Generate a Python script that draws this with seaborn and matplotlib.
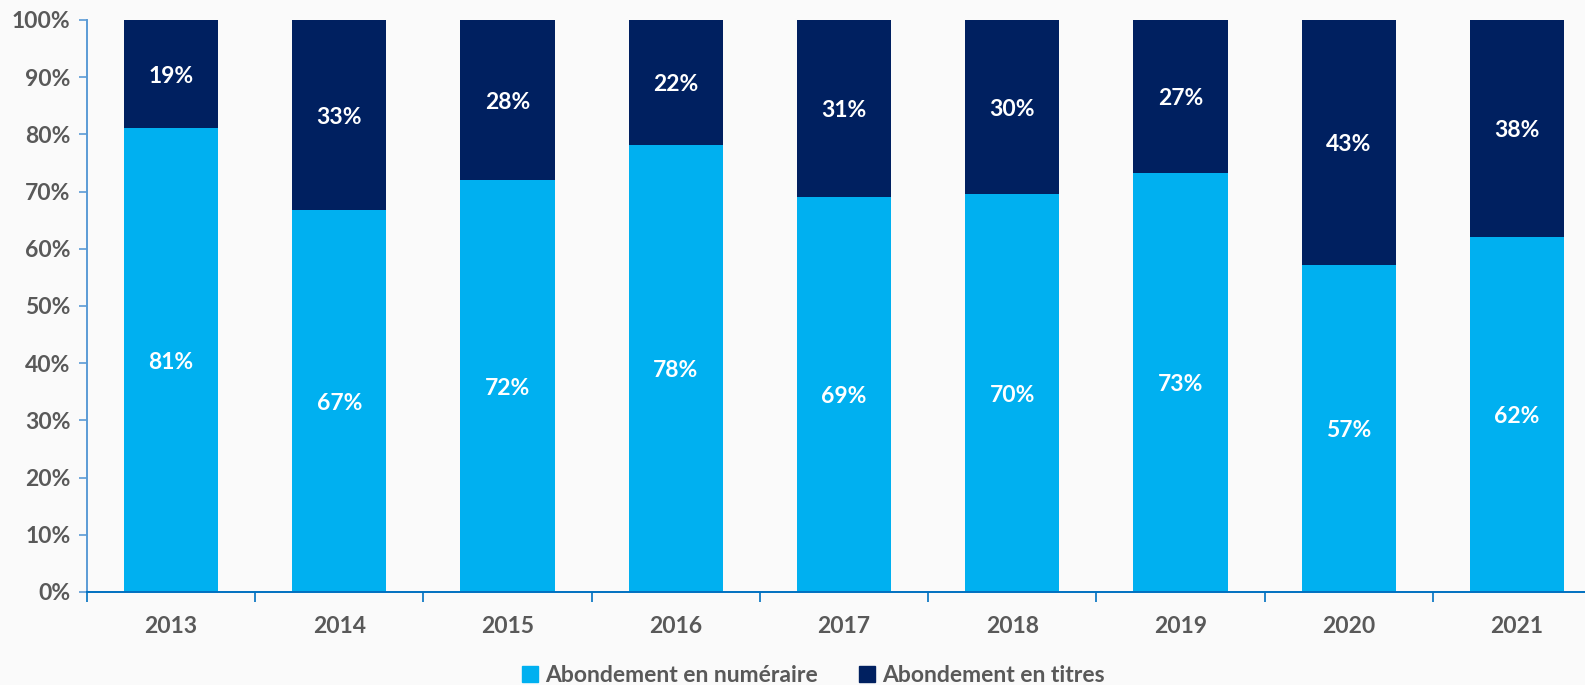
import matplotlib
matplotlib.use("Agg")
import matplotlib.pyplot as plt
import matplotlib.patches as mpatches
from matplotlib.ticker import FuncFormatter
import seaborn as sns
import pandas as pd

# data (share of each type, %)
years = ["2013", "2014", "2015", "2016", "2017", "2018", "2019", "2020", "2021"]
numeraire = [81.2, 66.7, 72.1, 78.2, 69.1, 69.6, 73.3, 57.2, 62.1]
titres = [18.8, 33.3, 27.9, 21.8, 30.9, 30.4, 26.7, 42.8, 37.9]
labels_num = ["81%", "67%", "72%", "78%", "69%", "70%", "73%", "57%", "62%"]
labels_tit = ["19%", "33%", "28%", "22%", "31%", "30%", "27%", "43%", "38%"]

df = pd.DataFrame({"annee": years, "numeraire": numeraire, "titres": titres})
df["total"] = df["numeraire"] + df["titres"]

sns.set_style("white")
plt.rcParams["font.family"] = ["Lato", "DejaVu Sans"]
plt.rcParams["font.weight"] = "bold"

light = "#00B0F0"
dark = "#002060"
grey = "#595959"
bg = "#FAFAFA"
fs = 16.5

fig = plt.figure(figsize=(15.85, 6.85), dpi=100, facecolor=bg)
ax = fig.add_axes([87 / 1585, 93 / 685, 1514 / 1585, 572 / 685])
ax.set_facecolor(bg)

# stacked: full bar in dark, then cash share on top of it in light blue
sns.barplot(data=df, x="annee", y="total", color=dark, width=0.56,
            saturation=1, linewidth=0, ax=ax)
sns.barplot(data=df, x="annee", y="numeraire", color=light, width=0.56,
            saturation=1, linewidth=0, ax=ax)

for i in range(len(years)):
    ax.text(i, numeraire[i] / 2 - 0.4, labels_num[i], ha="center", va="center",
            color="white", fontsize=fs, fontweight="bold")
    ax.text(i, numeraire[i] + titres[i] / 2 - 0.4, labels_tit[i], ha="center",
            va="center", color="white", fontsize=fs, fontweight="bold")

ax.set_ylim(0, 100)
ax.set_xlim(-0.5, len(years) - 0.5)
ax.set_yticks(range(0, 101, 10))
ax.yaxis.set_major_formatter(FuncFormatter(lambda v, p: f"{int(v)}%"))
ax.set_xlabel("")
ax.set_ylabel("")

# x ticks between categories, labels at centers
ax.set_xticks([i + 0.5 for i in range(-1, len(years))], minor=True)
ax.set_xticks(range(len(years)))
ax.set_xticklabels(years)
ax.tick_params(axis="x", which="major", bottom=False, length=0, pad=17,
               labelsize=fs, labelcolor=grey)
ax.tick_params(axis="x", which="minor", bottom=True, length=7, width=1.2,
               color="#0070C0", direction="out")
ax.tick_params(axis="y", left=True, length=6, width=1.2, color="#5B9BD5",
               labelsize=fs, labelcolor=grey, pad=6)
for t in ax.get_xticklabels() + ax.get_yticklabels():
    t.set_fontweight("bold")

for s in ["top", "right"]:
    ax.spines[s].set_visible(False)
ax.spines["left"].set_color("#5B9BD5")
ax.spines["left"].set_linewidth(1.4)
ax.spines["bottom"].set_color("#0070C0")
ax.spines["bottom"].set_linewidth(1.4)

handles = [mpatches.Patch(color=light, label="Abondement en numéraire"),
           mpatches.Patch(color=dark, label="Abondement en titres")]
fig.legend(handles=handles, loc="lower center", ncol=2, frameon=False,
           bbox_to_anchor=(0.513, -0.032), handlelength=0.7,
           handleheight=0.7, handletextpad=0.3, columnspacing=1.8,
           labelcolor=grey, prop={"weight": "bold", "size": fs})

fig.savefig("out.png", dpi=100, facecolor=bg)
